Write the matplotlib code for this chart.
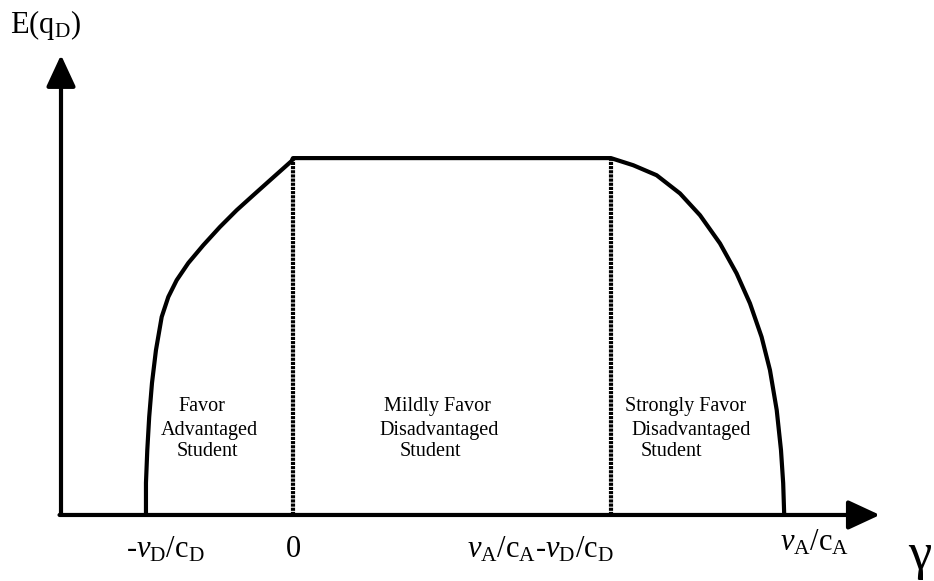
import matplotlib
matplotlib.use('Agg')
import matplotlib.pyplot as plt

plt.rcParams['font.family'] = ['Liberation Serif', 'DejaVu Serif']
plt.rcParams['mathtext.fontset'] = 'custom'
plt.rcParams['mathtext.rm'] = 'Liberation Serif'
plt.rcParams['mathtext.it'] = 'Liberation Serif:italic'

# Curve E(q_D) vs gamma (gamma in units of v_D/c_D, E normalised to 1)
left_x = [-1.0, -1.0, -0.991, -0.978, -0.959, -0.932, -0.893, -0.848, -0.791,
          -0.712, -0.610, -0.497, -0.383, -0.270, -0.156, -0.009, 0.0]
left_y = [0.0, 0.090, 0.182, 0.275, 0.370, 0.462, 0.555, 0.611, 0.658,
          0.706, 0.756, 0.807, 0.854, 0.896, 0.938, 0.992, 1.0]
flat_x = [0.0, 2.163]
flat_y = [1.0, 1.0]
right_x = [2.163, 2.315, 2.474, 2.633, 2.769, 2.905, 3.018, 3.109, 3.188,
           3.245, 3.291, 3.320, 3.335, 3.342]
right_y = [1.0, 0.980, 0.952, 0.901, 0.840, 0.761, 0.677, 0.593, 0.499,
           0.406, 0.294, 0.182, 0.089, 0.0]

# region boundaries (dotted lines)
bounds = [0.0, 2.163]

tick_labels = [r'-$\mathit{v}_{\mathrm{D}}/\mathrm{c}_{\mathrm{D}}$',
               '0',
               r'$\mathit{v}_{\mathrm{A}}/\mathrm{c}_{\mathrm{A}}$-$\mathit{v}_{\mathrm{D}}/\mathrm{c}_{\mathrm{D}}$',
               r'$\mathit{v}_{\mathrm{A}}/\mathrm{c}_{\mathrm{A}}$']
tick_label_x = [-0.871, 0.0, 1.68, 3.55]
tick_label_y = [-0.118, -0.118, -0.118, -0.100]

region_lines = [['Favor', 'Advantaged', 'Student'],
                ['Mildly Favor', 'Disadvantaged', 'Student'],
                ['Strongly Favor', 'Disadvantaged', 'Student']]
region_x = [[-0.619, -0.571, -0.585],
            [0.980, 0.993, 0.932],
            [2.673, 2.707, 2.571]]
region_y = [0.305, 0.238, 0.179]

fig = plt.figure(figsize=(9.34, 5.81), dpi=100)
ax = fig.add_axes([0, 0, 1, 1])
ax.set_xlim(-1.993, 4.361)
ax.set_ylim(-0.185, 1.443)
ax.axis('off')

lw = 3.0
ax.plot(left_x + flat_x + right_x, left_y + flat_y + right_y, color='black', lw=lw,
        solid_joinstyle='round', solid_capstyle='butt')
for b in bounds:
    ax.plot([b, b], [0, 1.0], color='black', lw=3.0, linestyle=(0, (0.75, 0.25)),
            dash_capstyle='butt')

# axes with arrows
y_axis_x = -1.578
arrow = dict(arrowstyle='-|>,head_length=0.97,head_width=0.45', mutation_scale=20,
             lw=lw, color='black', shrinkA=0, shrinkB=0)
ax.annotate('', xy=(y_axis_x, 1.289), xytext=(y_axis_x, 0), arrowprops=arrow)
ax.annotate('', xy=(3.993, 0), xytext=(y_axis_x - 0.01, 0), arrowprops=arrow)

for lab, tx, ty in zip(tick_labels, tick_label_x, tick_label_y):
    ax.text(tx, ty, lab, fontsize=22, ha='center', va='baseline')

for lines, xs in zip(region_lines, region_x):
    for line, tx, ty in zip(lines, xs, region_y):
        ax.text(tx, ty, line, fontsize=14.5, ha='center', va='center')

ax.text(-1.925, 1.42, r'E(q$_{\mathrm{D}}$)', fontsize=22, ha='left', va='top')
ax.text(4.184, -0.048, '\u03b3', fontsize=38, ha='left', va='top')

fig.savefig('out.png', dpi=100)
